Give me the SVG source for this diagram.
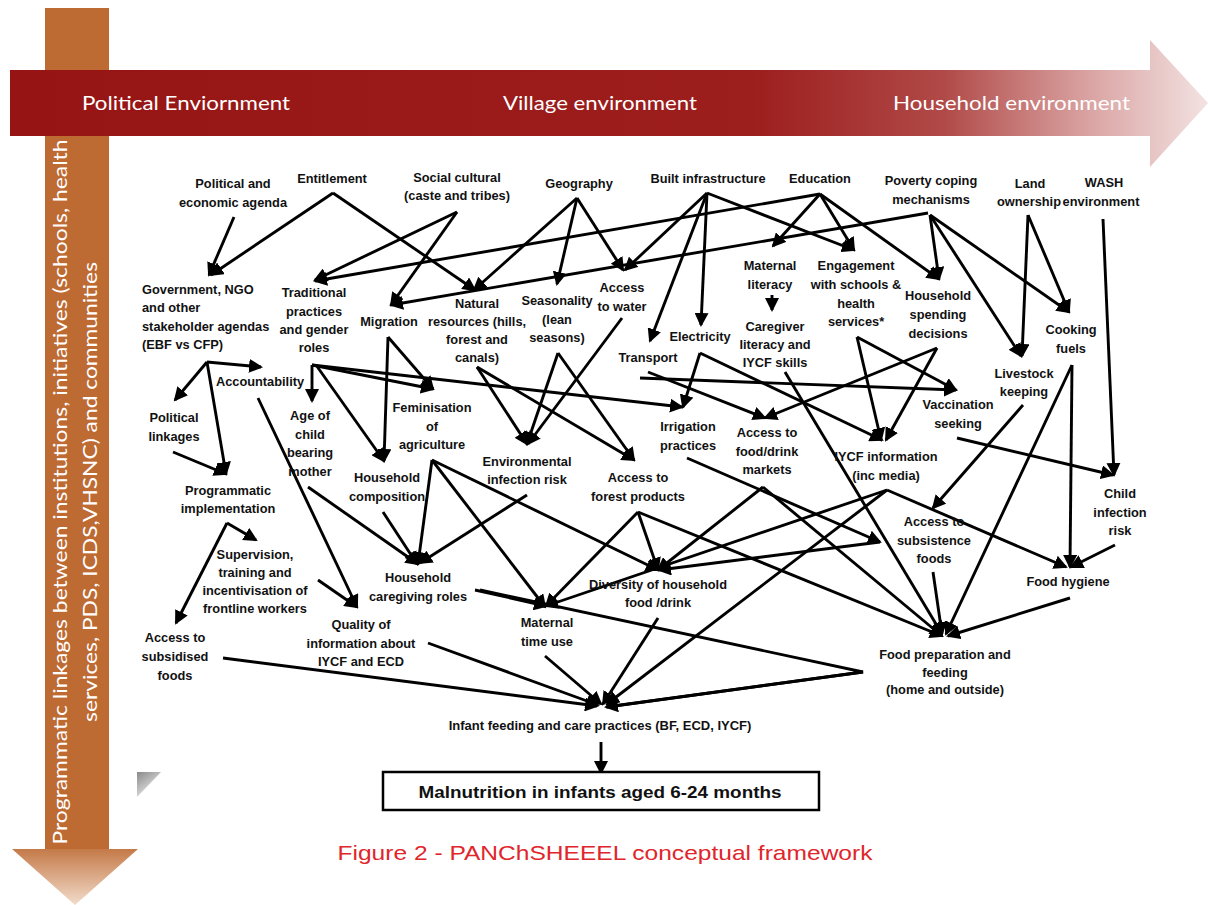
<svg xmlns="http://www.w3.org/2000/svg" width="1208" height="905" viewBox="0 0 1208 905">
<defs>
<linearGradient id="redGrad" x1="10" y1="0" x2="1208" y2="0" gradientUnits="userSpaceOnUse">
<stop offset="0" stop-color="#961514"/>
<stop offset="0.62" stop-color="#9C1E1D"/>
<stop offset="0.78" stop-color="#B04A48"/>
<stop offset="0.9" stop-color="#D9A3A2"/>
<stop offset="1" stop-color="#F3E2E2"/>
</linearGradient>
<linearGradient id="orangeGrad" x1="0" y1="840" x2="0" y2="905" gradientUnits="userSpaceOnUse">
<stop offset="0" stop-color="#BD6A33"/>
<stop offset="1" stop-color="#F2DCCB"/>
</linearGradient>
<linearGradient id="greyGrad" x1="137" y1="772" x2="150" y2="790" gradientUnits="userSpaceOnUse">
<stop offset="0" stop-color="#8A8A8A"/>
<stop offset="1" stop-color="#D8D8D8"/>
</linearGradient>
<marker id="ah" markerUnits="userSpaceOnUse" markerWidth="14" markerHeight="14" refX="12" refY="7" orient="auto">
<path d="M0,0 L14,7 L0,14 z" fill="#000"/>
</marker>
<style>
.hdr{font-family:"Lato","Liberation Sans",sans-serif;font-size:20px;fill:#fff}
.vt{font-family:"Lato","Liberation Sans",sans-serif;font-size:19px;fill:#fff}
.n text{font-family:"Liberation Sans",Arial,sans-serif;font-size:12.8px;font-weight:bold;fill:#111;text-anchor:middle}
.n text.l{text-anchor:start}
#connectors line,#connectors polyline{stroke:#000;stroke-width:2.9;fill:none;marker-end:url(#ah)}
#connectors .nm{marker-end:none}
</style>
</defs>
<rect width="1208" height="905" fill="#fff"/>

<g id="programmatic-arrow">
<rect x="45" y="8" width="64" height="842" fill="#BD6A33"/>
<polygon points="12,849 138,849 75,905" fill="url(#orangeGrad)"/>
<text class="vt" transform="translate(67,492) rotate(-90)" text-anchor="middle" textLength="705" lengthAdjust="spacingAndGlyphs">Programmatic linkages between institutions, initiatives (schools, health</text>
<text class="vt" transform="translate(97,492) rotate(-90)" text-anchor="middle" textLength="460" lengthAdjust="spacingAndGlyphs">services, PDS, ICDS,VHSNC) and communities</text>
</g>

<g id="environment-arrow">
<polygon points="10,70 1150,70 1150,40 1208,103 1150,167 1150,136 10,136" fill="url(#redGrad)"/>
<text class="hdr" x="82" y="110" textLength="208" lengthAdjust="spacingAndGlyphs">Political Enviornment</text>
<text class="hdr" x="503" y="110" textLength="194" lengthAdjust="spacingAndGlyphs">Village environment</text>
<text class="hdr" x="893" y="110" textLength="237" lengthAdjust="spacingAndGlyphs">Household environment</text>
</g>

<polygon id="grey-corner" points="137,772 161,772 137,797" fill="url(#greyGrad)"/>

<g id="connectors">
<line x1="234" y1="217" x2="209" y2="275"/>
<line x1="333" y1="193" x2="211" y2="275"/>
<line x1="333" y1="193" x2="475" y2="290"/>
<line x1="457" y1="212" x2="315" y2="280"/>
<line x1="457" y1="212" x2="391" y2="305"/>
<line x1="820" y1="194" x2="315" y2="281"/>
<line x1="928" y1="213" x2="391" y2="305"/>
<line x1="577" y1="198" x2="474" y2="290"/>
<line x1="577" y1="198" x2="557" y2="284"/>
<line x1="577" y1="198" x2="623" y2="270"/>
<line x1="707" y1="193" x2="625" y2="270"/>
<line x1="707" y1="193" x2="650" y2="341"/>
<line x1="707" y1="193" x2="701" y2="325"/>
<line x1="707" y1="193" x2="854" y2="250"/>
<line x1="820" y1="194" x2="773" y2="246"/>
<line x1="820" y1="194" x2="854" y2="250"/>
<line x1="820" y1="194" x2="939" y2="279"/>
<line x1="930" y1="215" x2="939" y2="279"/>
<line x1="930" y1="215" x2="1021" y2="356"/>
<line x1="930" y1="215" x2="1069" y2="312"/>
<line x1="1028" y1="215" x2="1022" y2="356"/>
<line x1="1028" y1="215" x2="1069" y2="312"/>
<line x1="1103" y1="219" x2="1114" y2="475"/>
<line x1="772" y1="295" x2="772" y2="310"/>

<line x1="207" y1="362" x2="261" y2="367"/>
<line x1="207" y1="362" x2="175" y2="400"/>
<line x1="207" y1="362" x2="226" y2="474"/>
<line x1="173" y1="452" x2="226" y2="474"/>
<line x1="258" y1="398" x2="357" y2="607"/>
<line x1="227" y1="523" x2="256" y2="540"/>
<line x1="227" y1="523" x2="176" y2="623"/>
<line x1="318" y1="580" x2="357" y2="607"/>

<line x1="312" y1="365" x2="312" y2="401"/>
<line x1="312" y1="365" x2="433" y2="389"/>
<line x1="388" y1="337" x2="433" y2="389"/>
<line x1="388" y1="337" x2="384" y2="461"/>
<line x1="316" y1="365" x2="384" y2="461"/>
<line x1="312" y1="365" x2="682" y2="407"/>
<line x1="308" y1="487" x2="418" y2="564"/>
<line x1="383" y1="512" x2="417" y2="564"/>
<line x1="432" y1="460" x2="418" y2="564"/>
<line x1="432" y1="460" x2="658" y2="570"/>
<line x1="432" y1="460" x2="545" y2="607"/>
<line x1="527" y1="495" x2="420" y2="563"/>
<line x1="475" y1="590" x2="546" y2="606"/>

<line x1="477" y1="367" x2="527" y2="444"/>
<line x1="477" y1="367" x2="634" y2="460"/>
<line x1="558" y1="353" x2="527" y2="444"/>
<line x1="558" y1="353" x2="634" y2="460"/>
<line x1="622" y1="318" x2="528" y2="444"/>
<line x1="700" y1="353" x2="683" y2="407"/>
<line x1="700" y1="353" x2="882" y2="440"/>
<line x1="648" y1="372" x2="765" y2="418"/>
<line x1="857" y1="337" x2="956" y2="390"/>
<line x1="857" y1="337" x2="881" y2="440"/>
<line x1="937" y1="348" x2="886" y2="440"/>
<line x1="937" y1="348" x2="765" y2="418"/>
<line x1="640" y1="378" x2="956" y2="390"/>

<line x1="638" y1="512" x2="658" y2="570"/>
<line x1="638" y1="512" x2="546" y2="606"/>
<line x1="638" y1="512" x2="942" y2="636"/>
<line x1="763" y1="487" x2="658" y2="570"/>
<line x1="763" y1="487" x2="942" y2="636"/>
<line x1="687" y1="458" x2="880" y2="542"/>
<line x1="880" y1="542" x2="659" y2="570"/>
<line x1="887" y1="490" x2="546" y2="606"/>
<line x1="887" y1="490" x2="607" y2="704"/>
<line x1="887" y1="490" x2="1066" y2="567"/>
<line x1="785" y1="372" x2="942" y2="634"/>
<line x1="933" y1="572" x2="942" y2="634"/>
<line x1="1072" y1="365" x2="946" y2="634"/>
<line x1="1072" y1="365" x2="1070" y2="567"/>
<line x1="1070" y1="598" x2="948" y2="636"/>
<line x1="1023" y1="405" x2="933" y2="508"/>
<line x1="957" y1="438" x2="1113" y2="475"/>
<line x1="1115" y1="545" x2="1071" y2="567"/>

<polyline class="nm" points="480,590 863,672 607,707"/>
<line x1="863" y1="672" x2="606" y2="707"/>
<line x1="223" y1="658" x2="597" y2="706"/>
<line x1="428" y1="643" x2="598" y2="705"/>
<line x1="545" y1="656" x2="601" y2="704"/>
<line x1="658" y1="618" x2="603" y2="704"/>
<line x1="601" y1="742" x2="601" y2="773"/>
</g>

<g id="n-political-agenda" class="n"><text x="233" y="188">Political and</text><text x="233" y="207">economic agenda</text></g>
<g id="n-entitlement" class="n"><text x="332" y="183">Entitlement</text></g>
<g id="n-social-cultural" class="n"><text x="457" y="182">Social cultural</text><text x="457" y="200">(caste and tribes)</text></g>
<g id="n-geography" class="n"><text x="579" y="188">Geography</text></g>
<g id="n-built" class="n"><text x="708" y="183">Built infrastructure</text></g>
<g id="n-education" class="n"><text x="820" y="183">Education</text></g>
<g id="n-poverty" class="n"><text x="931" y="185">Poverty coping</text><text x="931" y="204">mechanisms</text></g>
<g id="n-land" class="n"><text x="1030" y="188">Land</text><text x="1029" y="206">ownership</text></g>
<g id="n-wash" class="n"><text x="1104" y="187">WASH</text><text x="1101" y="206">environment</text></g>

<g id="n-government" class="n"><text class="l" x="142" y="294">Government, NGO</text><text class="l" x="142" y="312">and other</text><text class="l" x="142" y="331">stakeholder agendas</text><text class="l" x="142" y="349">(EBF vs CFP)</text></g>
<g id="n-traditional" class="n"><text x="314" y="297">Traditional</text><text x="314" y="316">practices</text><text x="314" y="334">and gender</text><text x="314" y="352">roles</text></g>
<g id="n-migration" class="n"><text x="389" y="326">Migration</text></g>
<g id="n-natural" class="n"><text x="477" y="308">Natural</text><text x="477" y="326">resources (hills,</text><text x="477" y="344">forest and</text><text x="477" y="362">canals)</text></g>
<g id="n-seasonality" class="n"><text x="557" y="305">Seasonality</text><text x="557" y="324">(lean</text><text x="557" y="342">seasons)</text></g>
<g id="n-water" class="n"><text x="622" y="292">Access</text><text x="622" y="311">to water</text></g>
<g id="n-electricity" class="n"><text x="700" y="341">Electricity</text></g>
<g id="n-transport" class="n"><text x="648" y="362">Transport</text></g>
<g id="n-maternal-literacy" class="n"><text x="770" y="270">Maternal</text><text x="770" y="289">literacy</text></g>
<g id="n-caregiver" class="n"><text x="775" y="331">Caregiver</text><text x="775" y="349">literacy and</text><text x="775" y="367">IYCF skills</text></g>
<g id="n-engagement" class="n"><text x="856" y="270">Engagement</text><text x="856" y="289">with schools &amp;</text><text x="856" y="308">health</text><text x="856" y="326">services*</text></g>
<g id="n-spending" class="n"><text x="938" y="300">Household</text><text x="938" y="319">spending</text><text x="938" y="338">decisions</text></g>
<g id="n-cooking" class="n"><text x="1071" y="334">Cooking</text><text x="1071" y="353">fuels</text></g>
<g id="n-livestock" class="n"><text x="1024" y="378">Livestock</text><text x="1024" y="396">keeping</text></g>

<g id="n-accountability" class="n"><text x="260" y="386">Accountability</text></g>
<g id="n-political-linkages" class="n"><text x="174" y="422">Political</text><text x="174" y="441">linkages</text></g>
<g id="n-age" class="n"><text x="310" y="420">Age of</text><text x="310" y="439">child</text><text x="310" y="457">bearing</text><text x="310" y="476">mother</text></g>
<g id="n-feminisation" class="n"><text x="432" y="412">Feminisation</text><text x="432" y="431">of</text><text x="432" y="449">agriculture</text></g>
<g id="n-composition" class="n"><text x="387" y="482">Household</text><text x="387" y="501">composition</text></g>
<g id="n-programmatic" class="n"><text x="228" y="495">Programmatic</text><text x="228" y="513">implementation</text></g>
<g id="n-supervision" class="n"><text x="255" y="559">Supervision,</text><text x="255" y="577">training and</text><text x="255" y="595">incentivisation of</text><text x="255" y="613">frontline workers</text></g>
<g id="n-caregiving" class="n"><text x="418" y="582">Household</text><text x="418" y="601">caregiving roles</text></g>
<g id="n-env-infection" class="n"><text x="527" y="466">Environmental</text><text x="527" y="484">infection risk</text></g>
<g id="n-irrigation" class="n"><text x="688" y="431">Irrigation</text><text x="688" y="450">practices</text></g>
<g id="n-markets" class="n"><text x="767" y="437">Access to</text><text x="767" y="456">food/drink</text><text x="767" y="474">markets</text></g>
<g id="n-forest" class="n"><text x="638" y="482">Access to</text><text x="638" y="501">forest products</text></g>
<g id="n-iycf-info" class="n"><text x="886" y="461">IYCF information</text><text x="886" y="480">(inc media)</text></g>
<g id="n-vaccination" class="n"><text x="958" y="409">Vaccination</text><text x="958" y="428">seeking</text></g>
<g id="n-child-infection" class="n"><text x="1120" y="498">Child</text><text x="1120" y="517">infection</text><text x="1120" y="535">risk</text></g>
<g id="n-subsistence" class="n"><text x="934" y="526">Access to</text><text x="934" y="545">subsistence</text><text x="934" y="563">foods</text></g>
<g id="n-hygiene" class="n"><text x="1068" y="586">Food hygiene</text></g>
<g id="n-diversity" class="n"><text x="658" y="589">Diversity of household</text><text x="658" y="607">food /drink</text></g>
<g id="n-time-use" class="n"><text x="547" y="627">Maternal</text><text x="547" y="646">time use</text></g>
<g id="n-quality" class="n"><text x="361" y="629">Quality of</text><text x="361" y="648">information about</text><text x="361" y="666">IYCF and ECD</text></g>
<g id="n-subsidised" class="n"><text x="175" y="642">Access to</text><text x="175" y="661">subsidised</text><text x="175" y="680">foods</text></g>
<g id="n-food-prep" class="n"><text x="945" y="659">Food preparation and</text><text x="945" y="677">feeding</text><text x="945" y="694">(home and outside)</text></g>
<g id="n-infant" class="n"><text x="600" y="730" style="font-size:13px">Infant feeding and care practices (BF, ECD, IYCF)</text></g>
<g id="n-malnutrition" class="n"><rect x="383" y="772" width="436" height="38" fill="#fff" stroke="#000" stroke-width="2.5"/><text x="600" y="798" style="font-size:16.5px" textLength="363" lengthAdjust="spacingAndGlyphs">Malnutrition in infants aged 6-24 months</text></g>

<text id="caption" x="605" y="860" text-anchor="middle" font-family="Liberation Sans, Arial, sans-serif" font-size="21" fill="#E0262B" textLength="535" lengthAdjust="spacingAndGlyphs">Figure 2 - PANChSHEEEL conceptual framework</text>
</svg>
